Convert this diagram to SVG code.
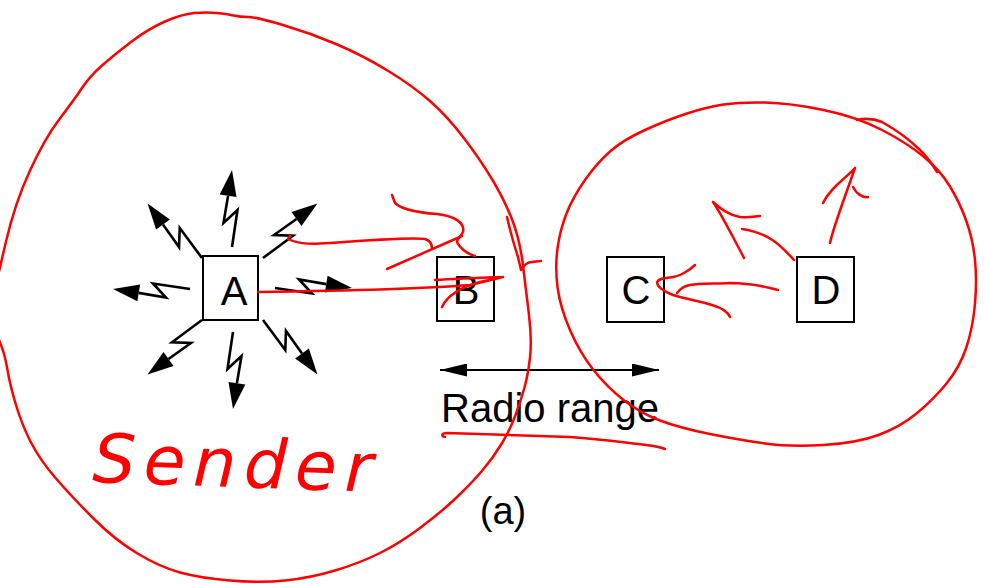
<svg xmlns="http://www.w3.org/2000/svg" width="984" height="584" viewBox="0 0 984 584">
  <style>
    .box { fill: none; stroke: #000; stroke-width: 2; }
    .lbl { font-family: "Liberation Sans", Arial, Helvetica, sans-serif; font-size: 40px; fill: #000; text-anchor: middle; }
    .bolt-line { fill: none; stroke: #000; stroke-width: 2.6; stroke-linejoin: miter; }
    .ink { fill: none; stroke: #f00; stroke-width: 2.5; stroke-linecap: round; stroke-linejoin: round; }
    .hand { font-family: "DejaVu Sans", "Liberation Sans", sans-serif; font-style: italic; fill: #f00; }
  </style>
  <defs>
    <!-- lightning-style radio signal, tail at origin, pointing along +x -->
    <g id="bolt">
      <polyline class="bolt-line" points="0,0 37,5.5 24,-8.5 51.3,-3.9"/>
      <polygon points="77,0 52.6,-12.3 49.9,4.5" fill="#000"/>
    </g>
    <marker id="tri" viewBox="0 0 27 13" refX="27" refY="6.5" markerWidth="27" markerHeight="13" markerUnits="userSpaceOnUse" orient="auto-start-reverse">
      <path d="M0,0 L27,6.5 L0,13 Z" fill="#000"/>
    </marker>
  </defs>

  <rect width="984" height="584" fill="#fff"/>

  <!-- stations -->
  <g id="node-A">
    <rect class="box" x="203" y="256" width="55" height="64"/>
    <text class="lbl" x="234" y="305">A</text>
  </g>
  <g id="node-B">
    <rect class="box" x="437" y="257" width="57" height="64"/>
    <text class="lbl" x="466" y="304">B</text>
  </g>
  <g id="node-C">
    <rect class="box" x="607" y="257" width="57" height="65"/>
    <text class="lbl" x="636" y="304">C</text>
  </g>
  <g id="node-D">
    <rect class="box" x="797" y="257" width="57" height="65"/>
    <text class="lbl" x="826" y="304">D</text>
  </g>

  <!-- connectors: broadcast signals from A and the radio range span -->
  <g id="connectors">
    <use href="#bolt" transform="translate(275,288)"/>
    <use href="#bolt" transform="translate(190,289) rotate(180)"/>
    <use href="#bolt" transform="translate(232,247) rotate(-90)"/>
    <use href="#bolt" transform="translate(233,332) rotate(90)"/>
    <use href="#bolt" transform="translate(263,258) rotate(-45)"/>
    <use href="#bolt" transform="translate(202,258) rotate(-135)"/>
    <use href="#bolt" transform="translate(202,320) rotate(135)"/>
    <use href="#bolt" transform="translate(263,320) rotate(45)"/>
    <line x1="440" y1="370" x2="659" y2="370" stroke="#000" stroke-width="2" marker-start="url(#tri)" marker-end="url(#tri)"/>
  </g>

  <g id="captions">
    <text class="lbl" x="441" y="422" style="text-anchor:start">Radio range</text>
    <text class="lbl" x="503" y="524" style="font-size:38px">(a)</text>
  </g>

  <!-- red pen annotations -->
  <g id="annotations">
    <!-- sender range -->
    <path class="ink" d="M-3,280 L6,241.5 Q15,203 30,170.5 Q45,138 59.5,119 Q74,100 82,88 Q90,76 102,65.5 Q114,55 131,42 Q148,29 165,21.5 Q182,14 194.5,13 Q207,12 217,13 Q227,14 233.5,15.5 Q240,17 248,17 Q256,17 283,25 Q310,33 336,44 Q362,55 387.5,70.5 Q413,86 430.5,101.5 Q448,117 465,139.5 Q482,162 494,182.5 Q506,203 513,222 Q520,241 523,265.5 Q526,290 529,315 Q532,340 530,357.5 Q528,375 524.5,387.5 Q521,400 515.5,415 Q510,430 501.5,444 Q493,458 481.5,471.5 Q470,485 455,499 Q440,513 420,528 Q400,543 380,553 Q360,563 335,570.5 Q310,578 285,580.5 Q260,583 230,580.5 Q200,578 180,572.5 Q160,567 137.5,553.5 Q115,540 93.5,518.5 Q72,497 56,478.5 Q40,460 31,442.5 Q22,425 16,405 Q10,385 7.5,370 Q5,355 1,345 L-3,335"/>
    <path class="ink" d="M507,217 C510,230 514,245 518,257 L521,270 M521,270 C524,265 528,262 532,262 L541,261"/>
    <!-- range of D -->
    <path class="ink" d="M723.5,104.5 Q740,102 765,102.5 Q790,103 823.5,110 Q857,117 882,130 Q907,143 923.5,156.5 Q940,170 950,186.5 Q960,203 966.5,221.5 Q973,240 975,260 Q977,280 975,303.5 Q973,327 966.5,347 Q960,367 946.5,383.5 Q933,400 916.5,413.5 Q900,427 878.5,435 Q857,443 823.5,445 Q790,447 765,443.5 Q740,440 710,434 Q680,428 660,420.5 Q640,413 623.5,400 Q607,387 593.5,370 Q580,353 570,330 Q560,307 557.5,287 Q555,267 557.5,248.5 Q560,230 566.5,213.5 Q573,197 585,180 Q597,163 610,151.5 Q623,140 645,130 Q667,120 687,113.5 Q707,107 723.5,104.5 Z"/>
    <path class="ink" d="M857,120 Q870,117 882,122 Q905,135 920,150 Q930,160 937,172"/>

    <!-- A to B -->
    <path class="ink" d="M258,292 C330,291 420,289 470,285 L503,277 M435,280 C460,279 485,277 503,277 M442,307 C447,296 458,288 480,282 L503,277"/>
    <path class="ink" d="M290,236 L288,239 C300,245 315,244 330,243 C370,240 410,237 425,239 C431,241 432,245 432,248"/>
    <path class="ink" d="M392,195 L395,203 C400,208 410,212 437,214 C455,216 465,223 463,232 C460,238 455,240 458,244 C462,250 468,254 475,256"/>
    <path class="ink" d="M387,269 L462,236"/>

    <!-- D's transmissions -->
    <path class="ink" d="M830,243 C834,225 845,197 855,168 M855,168 C846,178 830,188 823,203 M853,187 C856,193 862,198 868,197"/>
    <path class="ink" d="M794,260 C782,247 770,233 742,229 M744,258 C740,250 736,243 733,237 C728,228 720,212 713,202 M713,202 C720,208 728,215 740,217 C750,218 756,216 760,216"/>
    <path class="ink" d="M778,290 C760,285 740,283 730,283 C718,284 700,283 690,285 C684,286 680,289 677,293"/>
    <path class="ink" d="M695,265 C690,270 680,276 673,277 C665,278 659,278 657,282 C657,287 663,291 673,295 C685,299 700,301 712,305 C722,308 728,312 730,317"/>

    <!-- underline of the range caption -->
    <path class="ink" d="M445,437 C441,436 441,433 447,433 C480,434 520,435 570,437 C600,439 620,442 646,445 C655,446 660,447 665,449"/>

    <text class="hand" x="92" y="482" font-size="68" textLength="280" lengthAdjust="spacing" transform="rotate(2 92 482)">Sender</text>
  </g>
</svg>
